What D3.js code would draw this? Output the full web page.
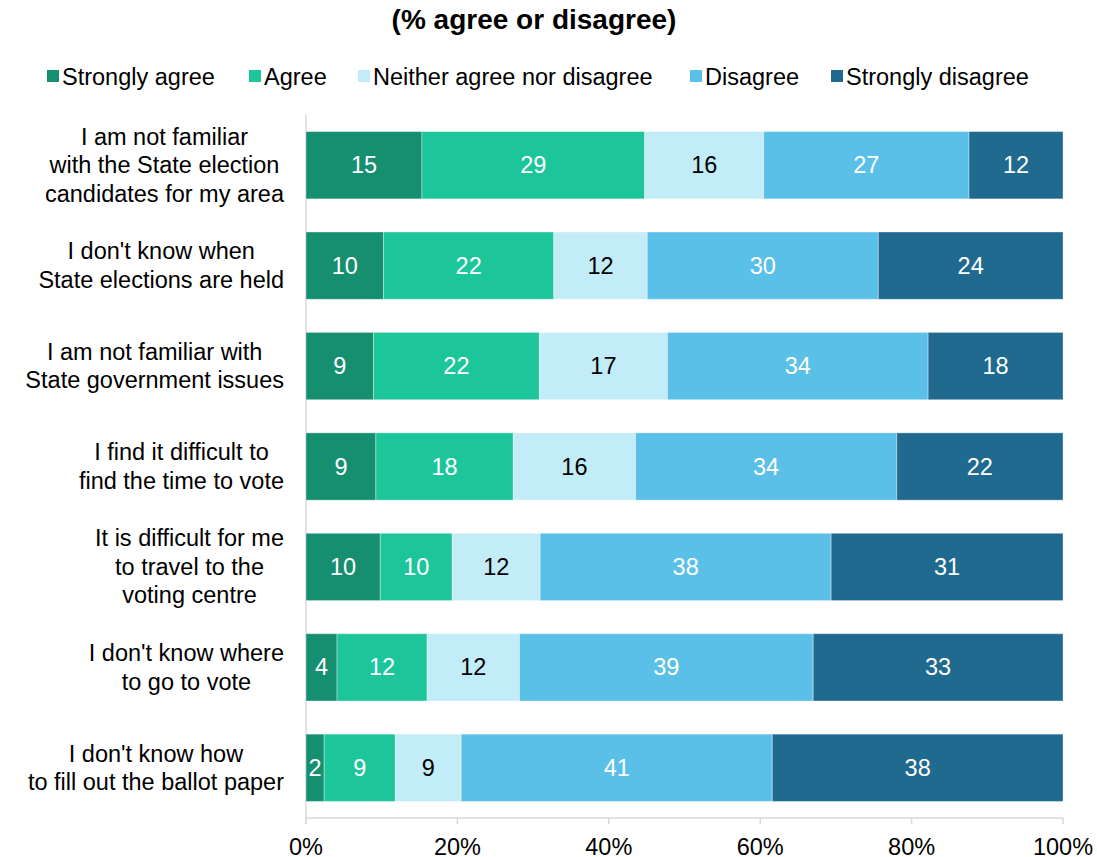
<!DOCTYPE html>
<html>
<head>
<meta charset="utf-8">
<script src="https://cdn.jsdelivr.net/npm/d3@7"></script>
<style>
  body { margin: 0; background: #fff; }
  text { font-family: "Liberation Sans", Arial, sans-serif; }
</style>
</head>
<body>
<div id="chart"></div>
<script>
// Data
const statements = [
  ["I am not familiar", "with the State election", "candidates for my area"],
  ["I don't know when", "State elections are held"],
  ["I am not familiar with", "State government issues"],
  ["I find it difficult to", "find the time to vote"],
  ["It is difficult for me", "to travel to the", "voting centre"],
  ["I don't know where", "to go to vote"],
  ["I don't know how", "to fill out the ballot paper"]
];
const responses = ["Strongly agree", "Agree", "Neither agree nor disagree", "Disagree", "Strongly disagree"];
const colors = ["#168f70", "#1dc59b", "#c2ecf8", "#5bc0e8", "#20698f"];
const labelColors = ["#fff", "#fff", "#000", "#fff", "#fff"];

// shares per statement (order of responses), labels shown rounded
const stronglyAgree    = [15.3, 10.2, 8.9, 9.2, 9.8, 4.1, 2.4];
const agree            = [29.4, 22.4, 21.9, 18.1, 9.5, 11.9, 9.4];
const neither          = [15.7, 12.3, 16.9, 16.1, 11.6, 12.2, 8.7];
const disagree         = [27.1, 30.4, 34.4, 34.4, 38.4, 38.8, 41.1];
const stronglyDisagree = [12.4, 24.3, 17.8, 21.9, 30.6, 33.0, 38.4];
const shownLabels = [
  [15, 29, 16, 27, 12],
  [10, 22, 12, 30, 24],
  [9, 22, 17, 34, 18],
  [9, 18, 16, 34, 22],
  [10, 10, 12, 38, 31],
  [4, 12, 12, 39, 33],
  [2, 9, 9, 41, 38]
];
const xTicks = [0, 20, 40, 60, 80, 100];

const W = 1097, H = 857;
const margin = {top: 115, right: 34, bottom: 39, left: 306};
const fs = 23.5;

const svg = d3.select("#chart").append("svg")
  .attr("width", W).attr("height", H);

const x = d3.scaleLinear().domain([0, 100]).range([margin.left, W - margin.right]);
const y = d3.scaleBand().domain(d3.range(statements.length))
  .range([margin.top, H - margin.bottom]).paddingInner(0.33).paddingOuter(0.165);

const series = [stronglyAgree, agree, neither, disagree, stronglyDisagree];
const rows = statements.map((s, i) => {
  const vals = series.map(arr => arr[i]);
  const tot = d3.sum(vals);
  let acc = 0;
  return vals.map((v, k) => {
    const p = v / tot * 100;
    const seg = {row: i, k: k, x0: acc, x1: acc + p, label: shownLabels[i][k]};
    acc += p;
    return seg;
  });
});

// title
svg.append("text")
  .attr("x", 534).attr("y", 29)
  .attr("text-anchor", "middle")
  .attr("font-size", 28).attr("font-weight", "bold")
  .text("(% agree or disagree)");

// legend
const legendX = [62, 264, 373, 705, 846];
const legend = svg.append("g");
responses.forEach((r, k) => {
  legend.append("rect")
    .attr("x", legendX[k] - 15).attr("y", 70).attr("width", 12).attr("height", 12)
    .attr("fill", colors[k]);
  legend.append("text")
    .attr("x", legendX[k]).attr("y", 85)
    .attr("font-size", fs).attr("fill", "#000")
    .text(r);
});

// axis lines
svg.append("line")
  .attr("x1", x(0)).attr("x2", x(0))
  .attr("y1", margin.top).attr("y2", H - margin.bottom + 6)
  .attr("stroke", "#d9d9d9").attr("stroke-width", 1.5);
svg.append("line")
  .attr("x1", x(0)).attr("x2", x(100))
  .attr("y1", H - margin.bottom).attr("y2", H - margin.bottom)
  .attr("stroke", "#d9d9d9").attr("stroke-width", 1.5);
svg.selectAll(".tick").data(xTicks).enter().append("line")
  .attr("x1", d => x(d)).attr("x2", d => x(d))
  .attr("y1", H - margin.bottom).attr("y2", H - margin.bottom + 6)
  .attr("stroke", "#d9d9d9").attr("stroke-width", 1.5);
svg.selectAll(".ticklabel").data(xTicks).enter().append("text")
  .attr("x", d => x(d)).attr("y", H - 2)
  .attr("text-anchor", "middle").attr("font-size", fs)
  .text(d => d + "%");

// bars
const rowG = svg.selectAll(".row").data(rows).enter().append("g");
rowG.selectAll("rect").data(d => d).enter().append("rect")
  .attr("x", d => x(d.x0))
  .attr("y", d => y(d.row))
  .attr("width", d => x(d.x1) - x(d.x0))
  .attr("height", y.bandwidth())
  .attr("fill", d => colors[d.k])
  .attr("stroke", "#ffffff").attr("stroke-opacity", 0.35).attr("stroke-width", 1);
rowG.selectAll("text").data(d => d).enter().append("text")
  .attr("x", d => x((d.x0 + d.x1) / 2))
  .attr("y", d => y(d.row) + y.bandwidth() / 2 + 8)
  .attr("text-anchor", "middle").attr("font-size", fs)
  .attr("fill", d => labelColors[d.k])
  .text(d => d.label);

// category labels: centred block, right edge at 284
const lineH = 28.5;
statements.forEach((lines, i) => {
  const t = svg.append("text").attr("font-size", fs).attr("text-anchor", "middle");
  const cy = y(i) + y.bandwidth() / 2;
  const spans = lines.map((l, j) => t.append("tspan")
    .attr("y", cy + 8 + (j - (lines.length - 1) / 2) * lineH).text(l));
  const maxW = d3.max(spans, s => s.node().getComputedTextLength());
  spans.forEach(s => s.attr("x", 284 - maxW / 2));
});
</script>
</body>
</html>
